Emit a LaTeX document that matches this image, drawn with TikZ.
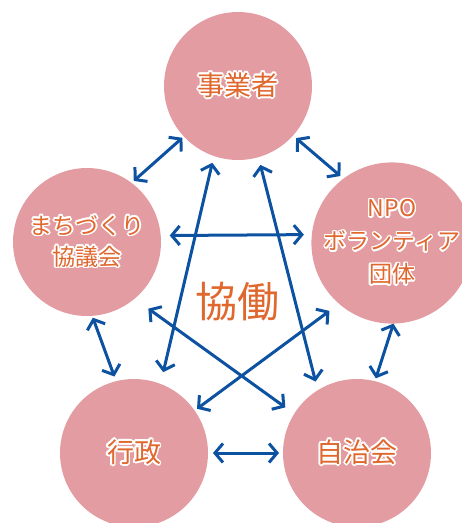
\documentclass[tikz,border=0pt]{standalone}
\usepackage{fontspec}
\setmainfont{Noto Sans CJK JP}
\usepackage{contour}
\contourlength{1.6pt}
\contournumber{16}
\usetikzlibrary{arrows.meta}
\definecolor{pinkfill}{HTML}{E39CA2}
\definecolor{arrowblue}{HTML}{0C52A1}
\definecolor{txtorange}{HTML}{E0672D}
\tikzset{
  party/.style={circle, fill=pinkfill, minimum size=148pt, inner sep=0pt, outer sep=0pt,
    text=txtorange, align=center},
  arr/.style={draw=arrowblue, line width=3pt,
    {Straight Barb[length=8pt,width=19pt]}-{Straight Barb[length=8pt,width=19pt]}},
}
\newcommand{\ct}[1]{\contour{white}{#1}}
\begin{document}
\begin{tikzpicture}[x=1pt,y=-1pt]
\useasboundingbox (0,0) rectangle (462,523);
\node[party, font=\fontsize{27}{30}\selectfont] (top) at (238,86) {\ct{事業者}};
\node[party, font=\fontsize{23}{31}\selectfont] (left) at (87,242) {\ct{まちづくり}\\\ct{協議会}};
\node[party, font=\fontsize{23}{33}\selectfont] (right) at (392,243) {\ct{NPO}\\\ct{ボランティア}\\\ct{団体}};
\node[party, font=\fontsize{27}{30}\selectfont] (bl) at (134,453) {\ct{行政}};
\node[party, font=\fontsize{27}{30}\selectfont] (br) at (357,453) {\ct{自治会}};
\node[text=txtorange, font=\fontsize{42}{46}\selectfont, inner sep=0pt] (center) at (237,302) {協働};
% arrows
\draw[arr, shorten <=2pt, shorten >=3pt] (top.223) -- (left.53);
\draw[arr, shorten <=4pt, shorten >=4pt] (top.318) -- (right.127);
\draw[arr, shorten <=9pt, shorten >=8pt] (left.5) -- (right.174);
\draw[arr, shorten <=7pt, shorten >=12pt] (top.251) -- (bl.69);
\draw[arr, shorten <=8pt, shorten >=9pt] (top.286) -- (br.122);
\draw[arr, shorten <=17pt, shorten >=11pt] (left.310) -- (br.148);
\draw[arr, shorten <=12pt, shorten >=3pt] (right.229) -- (bl.35);
\draw[arr, shorten <=2pt, shorten >=5pt] (left.274) -- (bl.104);
\draw[arr, shorten <=0pt, shorten >=3pt] (right.271) -- (br.76);
\draw[arr, shorten <=5pt, shorten >=4pt] (bl.0) -- (br.180);
\end{tikzpicture}
\end{document}
